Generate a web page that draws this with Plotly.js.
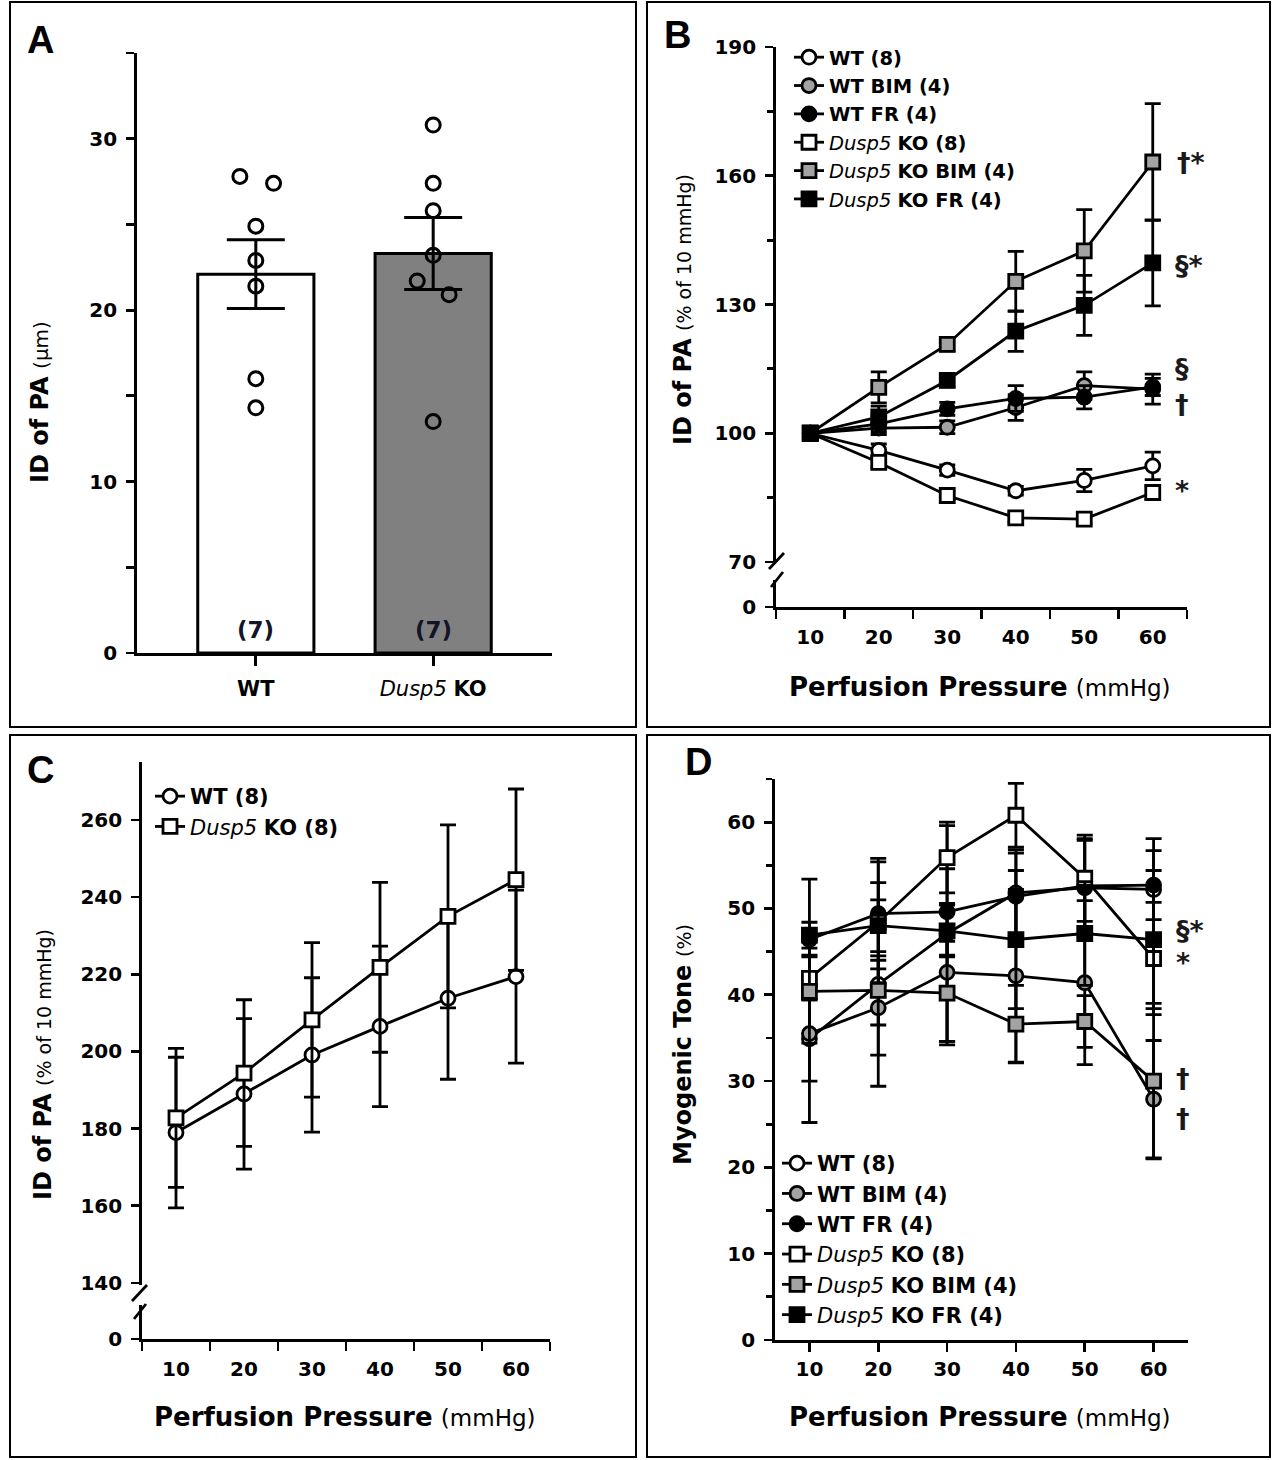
<!DOCTYPE html>
<html><head><meta charset="utf-8">
<script src="https://cdn.plot.ly/plotly-3.0.1.min.js"></script>
<style>body{margin:0;background:#fff}#chart{width:1274px;height:1460px}</style>
</head><body><div id="chart"></div>
<script>
// ---------------- DATA ----------------
// Panel A
const groupsA = ['<b>WT</b>', '<i>Dusp5</i> <b>KO</b>'];
const meanA = [22.1, 23.3];
const semA = [2.0, 2.1];
const nA = ['(7)', '(7)'];
const ptsA_WT = [27.8, 27.4, 24.9, 22.9, 21.4, 16.0, 14.3];
const ptsA_KO = [30.8, 27.4, 25.8, 23.2, 21.7, 20.9, 13.5];
const jitterA_WT = [-0.09, 0.1, 0, 0, 0, 0, 0];
const jitterA_KO = [0, 0, 0, 0, -0.09, 0.09, 0];

// Perfusion pressure (x) for B, C, D
const pressure = [10, 20, 30, 40, 50, 60];
const pressureTicks = ['10', '20', '30', '40', '50', '60'];

// Series names
const namesBD = ['<b>WT (8)</b>', '<b>WT BIM (4)</b>', '<b>WT FR (4)</b>',
  '<i>Dusp5</i> <b>KO (8)</b>', '<i>Dusp5</i> <b>KO BIM (4)</b>', '<i>Dusp5</i> <b>KO FR (4)</b>'];
const namesC = ['<b>WT (8)</b>', '<i>Dusp5</i> <b>KO (8)</b>'];

// Panel B: ID of PA (% of 10 mmHg)
const B_WT = [100, 96.0, 91.4, 86.6, 89.0, 92.4];
const B_WT_err = [0, 1.5, 1.2, 1.0, 2.6, 3.2];
const B_WT_BIM = [100, 101.2, 101.4, 106.0, 111.1, 110.3];
const B_WT_BIM_err = [0, 1.5, 1.5, 3.0, 3.2, 3.5];
const B_WT_FR = [100, 102.2, 105.7, 108.1, 108.4, 110.8];
const B_WT_FR_err = [0, 2.0, 1.5, 3.0, 2.7, 2.0];
const B_KO = [100, 93.2, 85.5, 80.3, 80.0, 86.2];
const B_KO_err = [0, 1.2, 1.0, 1.0, 1.0, 1.5];
const B_KO_BIM = [100, 110.7, 120.7, 135.4, 142.5, 163.2];
const B_KO_BIM_err = [0, 3.6, 1.5, 7.0, 9.6, 13.6];
const B_KO_FR = [100, 103.8, 112.3, 123.8, 129.8, 139.7];
const B_KO_FR_err = [0, 2.5, 1.5, 4.7, 7.0, 10.0];

// Panel C: ID of PA (% of 10 mmHg)
const C_WT = [179.0, 189.0, 199.1, 206.5, 213.8, 219.4];
const C_WT_err = [19.5, 19.5, 20.0, 20.8, 21.0, 22.4];
const C_KO = [182.8, 194.4, 208.2, 221.8, 235.0, 244.5];
const C_KO_err = [18.0, 19.0, 20.0, 22.0, 23.7, 23.5];

// Panel D: Myogenic tone (%)
const D_WT = [34.9, 41.2, 47.1, 51.8, 52.4, 52.2];
const D_WT_err = [9.7, 11.8, 12.5, 5.0, 5.5, 5.9];
const D_WT_BIM = [35.5, 38.5, 42.6, 42.2, 41.4, 27.9];
const D_WT_BIM_err = [5.5, 5.5, 8.0, 10.0, 9.5, 6.8];
const D_WT_FR = [46.4, 49.4, 49.6, 51.4, 52.6, 52.7];
const D_WT_FR_err = [7.0, 6.4, 5.0, 5.0, 5.5, 4.0];
const D_KO = [41.9, 48.4, 55.9, 60.8, 53.5, 44.2];
const D_KO_err = [2.5, 7.0, 4.1, 3.7, 5.0, 6.5];
const D_KO_BIM = [40.4, 40.5, 40.2, 36.6, 36.9, 30.0];
const D_KO_BIM_err = [6.0, 4.0, 6.0, 4.5, 3.0, 9.0];
const D_KO_FR = [46.9, 48.0, 47.4, 46.4, 47.1, 46.4];
const D_KO_FR_err = [1.5, 3.0, 3.0, 8.0, 6.0, 8.0];

// ---------------- STYLE / LAYOUT ----------------
const W = 1274, H = 1460;
const fx = p => p / W;
const fy = p => 1 - p / H;
const FONT = 'DejaVu Sans, Liberation Sans, Arial, sans-serif';
const GREY = '#a3a3a3';
const LW = 2.8;

const styles = [
  {symbol: 'circle', fill: 'white'},
  {symbol: 'circle', fill: GREY},
  {symbol: 'circle', fill: 'black'},
  {symbol: 'square', fill: 'white'},
  {symbol: 'square', fill: GREY},
  {symbol: 'square', fill: 'black'}
];

function lineTrace(y, err, name, st, xa, ya, legend) {
  return {
    type: 'scatter', mode: 'lines+markers', x: pressure, y: y, name: name,
    xaxis: xa, yaxis: ya, legend: legend, cliponaxis: false,
    line: {color: 'black', width: LW},
    marker: {symbol: st.symbol, size: 14, color: st.fill, line: {color: 'black', width: LW}},
    error_y: {type: 'data', array: err, visible: true, color: 'black', thickness: LW, width: 8}
  };
}

const traces = [];
// Panel A bars
traces.push({
  type: 'bar', x: [0, 1], y: meanA, width: 0.655, xaxis: 'x', yaxis: 'y', showlegend: false,
  marker: {color: ['white', '#808080'], line: {color: 'black', width: 3}},
  error_y: {type: 'data', array: semA, visible: true, color: 'black', thickness: 3, width: 29}
});
traces.push({
  type: 'scatter', mode: 'markers', x: ptsA_WT.map((v, i) => 0 + jitterA_WT[i]), y: ptsA_WT,
  xaxis: 'x', yaxis: 'y', showlegend: false, cliponaxis: false,
  marker: {symbol: 'circle', size: 14, color: 'rgba(0,0,0,0)', line: {color: 'black', width: 3}}
});
traces.push({
  type: 'scatter', mode: 'markers', x: ptsA_KO.map((v, i) => 1 + jitterA_KO[i]), y: ptsA_KO,
  xaxis: 'x', yaxis: 'y', showlegend: false, cliponaxis: false,
  marker: {symbol: 'circle', size: 14, color: 'rgba(0,0,0,0)', line: {color: 'black', width: 3}}
});

// Panel B
const Bser = [[B_WT, B_WT_err], [B_WT_BIM, B_WT_BIM_err], [B_WT_FR, B_WT_FR_err],
  [B_KO, B_KO_err], [B_KO_BIM, B_KO_BIM_err], [B_KO_FR, B_KO_FR_err]];
Bser.forEach((s, i) => traces.push(lineTrace(s[0], s[1], namesBD[i], styles[i], 'x2', 'y2', 'legend')));
// Panel C
traces.push(lineTrace(C_WT, C_WT_err, namesC[0], styles[0], 'x3', 'y4', 'legend2'));
traces.push(lineTrace(C_KO, C_KO_err, namesC[1], styles[3], 'x3', 'y4', 'legend2'));
// Panel D
const Dser = [[D_WT, D_WT_err], [D_WT_BIM, D_WT_BIM_err], [D_WT_FR, D_WT_FR_err],
  [D_KO, D_KO_err], [D_KO_BIM, D_KO_BIM_err], [D_KO_FR, D_KO_FR_err]];
Dser.forEach((s, i) => traces.push(lineTrace(s[0], s[1], namesBD[i], styles[i], 'x4', 'y6', 'legend3')));
// Empty traces so the lower (broken-axis) stubs exist as subplots
traces.push({type: 'scatter', mode: 'markers', x: [], y: [], xaxis: 'x2', yaxis: 'y3', showlegend: false, hoverinfo: 'skip'});
traces.push({type: 'scatter', mode: 'markers', x: [], y: [], xaxis: 'x3', yaxis: 'y5', showlegend: false, hoverinfo: 'skip'});

const tickFont = {family: FONT, size: 20, color: 'black', weight: 'bold'};
const baseAx = {
  showline: true, linecolor: 'black', linewidth: LW, showgrid: false, zeroline: false,
  ticks: 'outside', ticklen: 8, tickwidth: LW, tickcolor: 'black', tickfont: tickFont,
  fixedrange: true, ticklabelstandoff: 5
};
function ax(o) { return Object.assign({}, baseAx, o); }

const pressAx = (dom, anchor, betweenTicks) => ax(Object.assign({
  domain: dom, anchor: anchor, range: [5, 65], tickmode: 'array',
  tickvals: pressure, ticktext: pressureTicks
}, betweenTicks ? {
  ticks: '', ticklabelstandoff: 10,
  minor: {tickmode: 'array', tickvals: [5, 15, 25, 35, 45, 55, 65], ticks: 'outside', ticklen: 9, tickwidth: LW, tickcolor: 'black'}
} : {ticklen: 9, ticklabelstandoff: 0}));

const layout = {
  width: W, height: H, margin: {l: 0, r: 0, t: 0, b: 0},
  paper_bgcolor: 'white', plot_bgcolor: 'rgba(0,0,0,0)',
  font: {family: FONT, color: 'black'},
  // Panel A
  xaxis: ax({domain: [fx(137), fx(552)], anchor: 'y', range: [-0.67, 1.67], tickmode: 'array',
    tickvals: [0, 1], ticktext: groupsA, ticklen: 10, ticklabelstandoff: 5,
    tickfont: {family: FONT, size: 21, color: 'black'}}),
  yaxis: ax({domain: [fy(653), fy(53)], anchor: 'x', range: [0, 35], tickmode: 'array',
    tickvals: [0, 10, 20, 30],
    minor: {tickmode: 'array', tickvals: [5, 15, 25, 35], ticks: 'outside', ticklen: 8, tickwidth: LW, tickcolor: 'black'}}),
  // Panel B
  xaxis2: pressAx([fx(776), fx(1187)], 'y3', true),
  yaxis2: ax({domain: [fy(562), fy(47)], anchor: 'x2', range: [70, 190], tickmode: 'array',
    tickvals: [70, 100, 130, 160, 190],
    minor: {tickmode: 'array', tickvals: [85, 115, 145, 175], ticks: 'outside', ticklen: 6, tickwidth: LW, tickcolor: 'black'}}),
  yaxis3: ax({domain: [fy(607), fy(580)], anchor: 'x2', range: [0, 6.32], tickmode: 'array', tickvals: [0]}),
  // Panel C
  xaxis3: pressAx([fx(142), fx(550)], 'y5', true),
  yaxis4: ax({domain: [fy(1285), fy(762)], anchor: 'x3', range: [139.5, 275], tickmode: 'array',
    tickvals: [140, 160, 180, 200, 220, 240, 260]}),
  yaxis5: ax({domain: [fy(1339), fy(1305)], anchor: 'x3', range: [0, 8.8], tickmode: 'array', tickvals: [0]}),
  // Panel D
  xaxis4: pressAx([fx(775), fx(1188)], 'y6', false),
  yaxis6: ax({domain: [fy(1340), fy(779)], anchor: 'x4', range: [0, 65], tickmode: 'array',
    tickvals: [0, 10, 20, 30, 40, 50, 60],
    minor: {tickmode: 'array', tickvals: [5, 15, 25, 35, 45, 55, 65], ticks: 'outside', ticklen: 6, tickwidth: LW, tickcolor: 'black'}}),
  legend: {x: fx(789), y: fy(38), xanchor: 'left', yanchor: 'top', bgcolor: 'rgba(0,0,0,0)',
    font: {family: FONT, size: 19.5, color: 'black'}, itemwidth: 30, tracegroupgap: 0},
  legend2: {x: fx(150), y: fy(776), xanchor: 'left', yanchor: 'top', bgcolor: 'rgba(0,0,0,0)',
    font: {family: FONT, size: 21, color: 'black'}, itemwidth: 30, tracegroupgap: 0},
  legend3: {x: fx(777), y: fy(1143), xanchor: 'left', yanchor: 'top', bgcolor: 'rgba(0,0,0,0)',
    font: {family: FONT, size: 21, color: 'black'}, itemwidth: 30, tracegroupgap: 0},
  shapes: [],
  annotations: []
};

// Panel frames
[[10, 2, 636, 727], [647, 2, 1270, 727], [10, 735, 636, 1457], [647, 735, 1270, 1457]].forEach(r => {
  layout.shapes.push({type: 'rect', xref: 'paper', yref: 'paper', x0: fx(r[0]), x1: fx(r[2]),
    y0: fy(r[3]), y1: fy(r[1]), line: {color: 'black', width: 2}, fillcolor: 'rgba(0,0,0,0)'});
});
// Axis break marks
[[769, 569, 784, 553], [771, 587, 783, 572], [132, 1301, 147, 1285], [134, 1319, 146, 1304]].forEach(s => {
  layout.shapes.push({type: 'line', xref: 'paper', yref: 'paper', x0: fx(s[0]), y0: fy(s[1]),
    x1: fx(s[2]), y1: fy(s[3]), line: {color: 'black', width: LW}});
});

const ann = layout.annotations;
function paperText(text, x, y, size, opts) {
  ann.push(Object.assign({text: text, xref: 'paper', yref: 'paper', x: fx(x), y: fy(y),
    xanchor: 'center', yanchor: 'middle', showarrow: false,
    font: {family: FONT, size: size, color: 'black'}}, opts || {}));
}
// Panel letters
[['A', 40, 40], ['B', 677, 35], ['C', 40, 770], ['D', 698, 762]].forEach(l =>
  paperText('<b>' + l[0] + '</b>', l[1], l[2], 38, {font: {family: 'Liberation Sans, Arial, sans-serif', size: 38, color: 'black'}}));
// Axis titles
const idTitle = '<b>ID of PA</b> <span style="font-size:19px">(% of 10 mmHg)</span>';
const ppTitle = '<b>Perfusion Pressure</b> <span style="font-size:23px">(mmHg)</span>';
paperText('<b>ID of PA</b> <span style="font-size:20px">(μm)</span>', 40, 402, 24, {textangle: -90});
paperText(idTitle, 683, 310, 24, {textangle: -90});
paperText(idTitle, 43, 1065, 24, {textangle: -90});
paperText('<b>Myogenic Tone</b> <span style="font-size:19px">(%)</span>', 683, 1045, 24, {textangle: -90});
paperText(ppTitle, 980, 687, 26);
paperText(ppTitle, 345, 1417, 26);
paperText(ppTitle, 980, 1417, 26);
// n labels in bars
nA.forEach((t, i) => ann.push({text: '<b>' + t + '</b>', xref: 'x', yref: 'paper', x: i, y: fy(630),
  xanchor: 'center', yanchor: 'middle', showarrow: false, font: {family: FONT, size: 23, color: '#141428'}}));
// Significance symbols
function sig(text, xa, ya, yv, xs, ys) {
  ann.push({text: '<b>' + text + '</b>', xref: xa, yref: ya, x: 60, y: yv, xshift: xs, yshift: ys,
    xanchor: 'left', yanchor: 'middle', showarrow: false, font: {family: FONT, size: 27, color: '#1a1a1a'}});
}
sig('†*', 'x2', 'y2', B_KO_BIM[5], 22, 0);
sig('§*', 'x2', 'y2', B_KO_FR[5], 20, -3);
sig('§', 'x2', 'y2', B_WT_BIM[5], 20, 21);
sig('†', 'x2', 'y2', B_WT_FR[5], 20, -18);
sig('*', 'x2', 'y2', B_KO[5], 20, 2);
sig('§*', 'x4', 'y6', D_KO_FR[5], 20, 9);
sig('*', 'x4', 'y6', D_KO[5], 20, -4);
sig('†', 'x4', 'y6', D_KO_BIM[5], 20, 3);
sig('†', 'x4', 'y6', D_WT_BIM[5], 20, -19);

Plotly.newPlot('chart', traces, layout, {displayModeBar: false, staticPlot: true});
</script>
</body></html>
